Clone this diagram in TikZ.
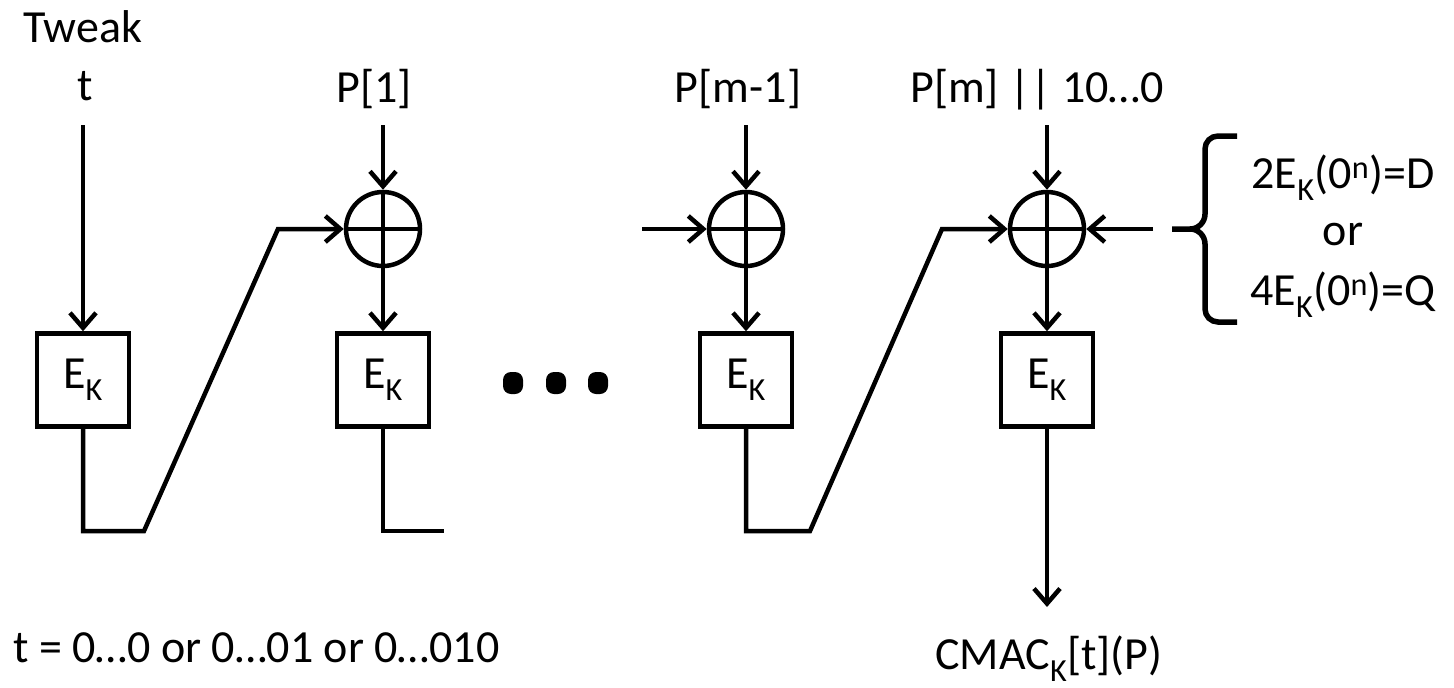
\documentclass[tikz,border=0pt]{standalone}
\usepackage{fontspec}
\setmainfont{Carlito}
\usetikzlibrary{arrows.meta}
\begin{document}
\begin{tikzpicture}[x=1pt,y=-1pt,
  every node/.style={font=\fontsize{46}{55}\selectfont},
  lbl/.style={inner sep=0pt,anchor=base},
  ebox/.style={draw,line width=4.5pt,minimum width=92pt,minimum height=93pt,inner sep=0pt},
  xorc/.style={draw,circle,line width=4.5pt,minimum size=74pt,inner sep=0pt,
    path picture={\draw[line width=4.5pt] (path picture bounding box.north) -- (path picture bounding box.south)
      (path picture bounding box.west) -- (path picture bounding box.east);}},
  dotn/.style={fill,rounded corners=8pt,minimum width=20pt,minimum height=22pt,inner sep=0pt},
  wire/.style={line width=4.5pt},
  arr/.style={wire,-{Straight Barb[length=15pt,width=26pt]}}
]
\useasboundingbox (0,0) rectangle (1454,688);
% labels
\node[lbl,anchor=base west] (tweak) at (23,42) {Tweak};
\node[lbl] (tl) at (85,100) {t};
\node[lbl] (p1l) at (374,102) {P[1]};
\node[lbl] (p3l) at (738,102) {P[m-1]};
\node[lbl] (p4l) at (1037,102) {P[m] || 10…0};
\node[lbl,anchor=base west] (tdef) at (13,662) {t = 0…0 or 0…01 or 0…010};
\node[lbl] (cmac) at (1049,669) {CMAC\textsubscript{K}[t](P)};
\node[lbl] (dl) at (1343,188) {2E\textsubscript{K}(0\textsuperscript{n})=D};
\node[lbl] (orl) at (1343,245) {or};
\node[lbl] (ql) at (1343,305) {4E\textsubscript{K}(0\textsuperscript{n})=Q};
% boxes
\node[ebox] (b1) at (83,380) {E\textsubscript{K}};
\node[ebox] (b2) at (383,380) {E\textsubscript{K}};
\node[ebox] (b3) at (746,380) {E\textsubscript{K}};
\node[ebox] (b4) at (1047,380) {E\textsubscript{K}};
% xors
\node[xorc] (x1) at (383,229) {};
\node[xorc] (x3) at (746,229) {};
\node[xorc] (x4) at (1047,229) {};
% dots
\node[dotn] (d1) at (513,383) {};
\node[dotn] (d2) at (556,383) {};
\node[dotn] (d3) at (598,383) {};
% free ends
\coordinate (t0) at (83,125);
\coordinate (p10) at (383,125);
\coordinate (p30) at (746,125);
\coordinate (p40) at (1047,125);
\coordinate (in3) at (642,229);
\coordinate (br) at (1153,229);
\coordinate (out) at (1047,607);
\coordinate (e2) at (444,531);
% connectors
\draw[arr] (t0) -- (b1.north);
\draw[arr] (p10) -- (x1.north);
\draw[arr] (x1.south) -- (b2.north);
\draw[arr] (p30) -- (x3.north);
\draw[arr] (x3.south) -- (b3.north);
\draw[arr] (p40) -- (x4.north);
\draw[arr] (x4.south) -- (b4.north);
\draw[arr] (b1.south) -- (83,531) -- (144,531) -- (278,229) -- (x1.west);
\draw[wire] (b2.south) -- (383,531) -- (e2);
\draw[arr] (in3) -- (x3.west);
\draw[arr] (b3.south) -- (746,531) -- (810,531) -- (942,229) -- (x4.west);
\draw[arr] (br) -- (x4.east);
\draw[arr] (b4.south) -- (out);
% brace
\draw[wire,line width=5.5pt] (1237,136) -- (1218,136) to[out=180,in=90] (1205,149) -- (1205,214)
  to[out=-90,in=0] (1190,229) -- (1172,229);
\draw[wire,line width=5.5pt] (1237,322) -- (1218,322) to[out=180,in=-90] (1205,309) -- (1205,244)
  to[out=90,in=0] (1190,229);
\end{tikzpicture}
\end{document}
